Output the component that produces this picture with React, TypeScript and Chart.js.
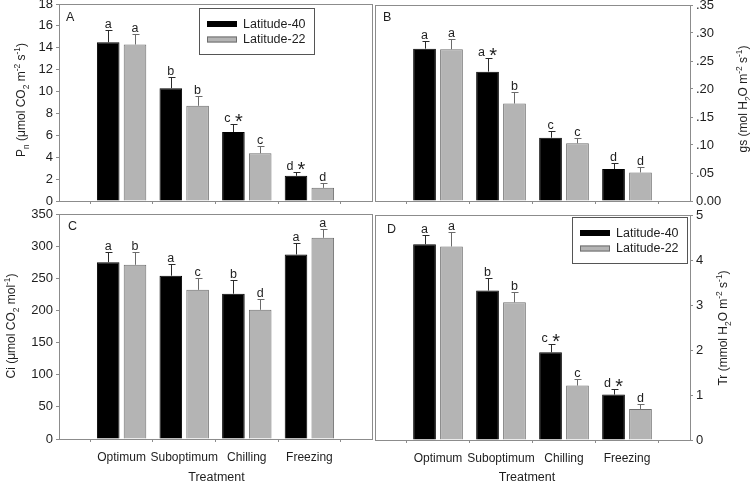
import React, { useEffect, useRef } from 'react';
import { Chart, registerables } from 'chart.js';

Chart.register(...registerables);

const FONT = "'Liberation Sans', Arial, Helvetica, sans-serif";
const TEXT = '#1e1e1e';
const FRAME = '#8c8c8c';
const BLACK = '#000000';
const GREY = '#b4b4b4';
const GREY_EDGE = '#6e6e6e';

// ---------------- data ----------------
const categories = ['Optimum', 'Suboptimum', 'Chilling', 'Freezing'];
const seriesNames = ['Latitude-40', 'Latitude-22'];

// Panel A: Pn
const pnLat40 = [14.5, 10.3, 6.3, 2.3];
const pnLat40Err = [1.1, 1.05, 0.73, 0.34];
const pnLat22 = [14.3, 8.7, 4.36, 1.2];
const pnLat22Err = [0.95, 0.9, 0.67, 0.45];
const pnLat40Letters = ['a', 'b', 'c', 'd'];
const pnLat22Letters = ['a', 'b', 'c', 'd'];
const pnLat40Stars = [false, false, true, true];
const pnLat22Stars = [false, false, false, false];
const pnTicks = [0, 2, 4, 6, 8, 10, 12, 14, 16, 18];
const pnTickLabels = ['0', '2', '4', '6', '8', '10', '12', '14', '16', '18'];

// Panel B: gs
const gsLat40 = [0.272, 0.231, 0.113, 0.057];
const gsLat40Err = [0.0145, 0.024, 0.012, 0.01];
const gsLat22 = [0.271, 0.174, 0.103, 0.051];
const gsLat22Err = [0.018, 0.02, 0.009, 0.009];
const gsLat40Letters = ['a', 'a', 'c', 'd'];
const gsLat22Letters = ['a', 'b', 'c', 'd'];
const gsLat40Stars = [false, true, false, false];
const gsLat22Stars = [false, false, false, false];
const gsTicks = [0, 0.05, 0.1, 0.15, 0.2, 0.25, 0.3, 0.35];
const gsTickLabels = ['0.00', '.05', '.10', '.15', '.20', '.25', '.30', '.35'];

// Panel C: Ci
const ciLat40 = [275, 254, 226, 287];
const ciLat40Err = [16, 18, 21, 18];
const ciLat22 = [271, 232, 201, 313];
const ciLat22Err = [20, 19, 17, 13];
const ciLat40Letters = ['a', 'a', 'b', 'a'];
const ciLat22Letters = ['b', 'c', 'd', 'a'];
const ciLat40Stars = [false, false, false, false];
const ciLat22Stars = [false, false, false, false];
const ciTicks = [0, 50, 100, 150, 200, 250, 300, 350];
const ciTickLabels = ['0', '50', '100', '150', '200', '250', '300', '350'];

// Panel D: Tr
const trLat40 = [4.35, 3.32, 1.95, 1.01];
const trLat40Err = [0.21, 0.29, 0.18, 0.12];
const trLat22 = [4.3, 3.06, 1.21, 0.69];
const trLat22Err = [0.33, 0.24, 0.14, 0.1];
const trLat40Letters = ['a', 'b', 'c', 'd'];
const trLat22Letters = ['a', 'b', 'c', 'd'];
const trLat40Stars = [false, false, true, true];
const trLat22Stars = [false, false, false, false];
const trTicks = [0, 1, 2, 3, 4, 5];
const trTickLabels = ['0', '1', '2', '3', '4', '5'];

const xTitle = 'Treatment';

type Seg = { t: string; s?: 'sub' | 'sup' };
const pnTitle: Seg[] = [
  { t: 'P' }, { t: 'n', s: 'sub' }, { t: ' (μmol CO' }, { t: '2', s: 'sub' },
  { t: ' m' }, { t: '-2', s: 'sup' }, { t: ' s' }, { t: '-1', s: 'sup' }, { t: ')' },
];
const gsTitle: Seg[] = [
  { t: 'gs (mol H' }, { t: '2', s: 'sub' }, { t: 'O m' }, { t: '-2', s: 'sup' },
  { t: ' s' }, { t: '-1', s: 'sup' }, { t: ')' },
];
const ciTitle: Seg[] = [
  { t: 'Ci (μmol CO' }, { t: '2', s: 'sub' }, { t: ' mol' }, { t: '-1', s: 'sup' }, { t: ')' },
];
const trTitle: Seg[] = [
  { t: 'Tr (mmol H' }, { t: '2', s: 'sub' }, { t: 'O m' }, { t: '-2', s: 'sup' },
  { t: ' s' }, { t: '-1', s: 'sup' }, { t: ')' },
];

// ---------------- types ----------------
interface Series {
  name: string;
  values: number[];
  err: number[];
  letters: string[];
  stars: boolean[];
  fill: string;
  edge: string;
  errColor: string;
}
interface PanelCfg {
  key: string;
  area: { l: number; t: number; r: number; b: number };
  yPos: 'left' | 'right';
  yTicks: number[];
  yTickLabels: string[];
  series: Series[];
  showX: boolean;
  title: Seg[];
  titleX: number;
  titleY: number;
  letter: string;
  letterX: number;
  letterY: number;
  legend?: { x: number; y: number };
  xTitlePos?: { x: number; y: number };
}

const mk = (
  name: string, values: number[], err: number[], letters: string[], stars: boolean[], black: boolean,
): Series => ({
  name, values, err, letters, stars,
  fill: black ? BLACK : GREY,
  edge: black ? BLACK : GREY_EDGE,
  errColor: black ? '#2a2a2a' : '#6a6a6a',
});

const panels: PanelCfg[] = [
  {
    key: 'A', area: { l: 59, t: 4, r: 372, b: 201 }, yPos: 'left', yTicks: pnTicks, yTickLabels: pnTickLabels,
    series: [
      mk(seriesNames[0], pnLat40, pnLat40Err, pnLat40Letters, pnLat40Stars, true),
      mk(seriesNames[1], pnLat22, pnLat22Err, pnLat22Letters, pnLat22Stars, false),
    ],
    showX: false, title: pnTitle, titleX: 21, titleY: 100, letter: 'A', letterX: 66, letterY: 21,
    legend: { x: 199, y: 8 },
  },
  {
    key: 'B', area: { l: 375, t: 5, r: 690, b: 201 }, yPos: 'right', yTicks: gsTicks, yTickLabels: gsTickLabels,
    series: [
      mk(seriesNames[0], gsLat40, gsLat40Err, gsLat40Letters, gsLat40Stars, true),
      mk(seriesNames[1], gsLat22, gsLat22Err, gsLat22Letters, gsLat22Stars, false),
    ],
    showX: false, title: gsTitle, titleX: 743, titleY: 99, letter: 'B', letterX: 383, letterY: 21,
  },
  {
    key: 'C', area: { l: 59, t: 214, r: 372, b: 439 }, yPos: 'left', yTicks: ciTicks, yTickLabels: ciTickLabels,
    series: [
      mk(seriesNames[0], ciLat40, ciLat40Err, ciLat40Letters, ciLat40Stars, true),
      mk(seriesNames[1], ciLat22, ciLat22Err, ciLat22Letters, ciLat22Stars, false),
    ],
    showX: true, title: ciTitle, titleX: 11, titleY: 326, letter: 'C', letterX: 68, letterY: 230,
    xTitlePos: { x: 216.5, y: 478 },
  },
  {
    key: 'D', area: { l: 375, t: 215, r: 690, b: 440 }, yPos: 'right', yTicks: trTicks, yTickLabels: trTickLabels,
    series: [
      mk(seriesNames[0], trLat40, trLat40Err, trLat40Letters, trLat40Stars, true),
      mk(seriesNames[1], trLat22, trLat22Err, trLat22Letters, trLat22Stars, false),
    ],
    showX: true, title: trTitle, titleX: 723, titleY: 328, letter: 'D', letterX: 387, letterY: 233,
    legend: { x: 572, y: 217 }, xTitlePos: { x: 527, y: 478 },
  },
];

// ---------------- drawing helpers ----------------
function drawRich(ctx: CanvasRenderingContext2D, segs: Seg[], cx: number, cy: number, size: number) {
  const small = size * 0.7;
  ctx.save();
  ctx.translate(cx, cy);
  ctx.rotate(-Math.PI / 2);
  ctx.fillStyle = TEXT;
  ctx.textBaseline = 'alphabetic';
  ctx.textAlign = 'left';
  const widths = segs.map((sg) => {
    ctx.font = `${sg.s ? small : size}px ${FONT}`;
    return ctx.measureText(sg.t).width;
  });
  const total = widths.reduce((a, b) => a + b, 0);
  let x = -total / 2;
  const base = size * 0.36;
  segs.forEach((sg, i) => {
    ctx.font = `${sg.s ? small : size}px ${FONT}`;
    const dy = sg.s === 'sub' ? size * 0.3 : sg.s === 'sup' ? -size * 0.42 : 0;
    ctx.fillText(sg.t, x, base + dy);
    x += widths[i];
  });
  ctx.restore();
}

function drawLegend(ctx: CanvasRenderingContext2D, x0: number, y0: number, series: Series[]) {
  ctx.save();
  ctx.strokeStyle = '#555';
  ctx.lineWidth = 1;
  ctx.strokeRect(x0 + 0.5, y0 + 0.5, 115, 46);
  ctx.font = `12.5px ${FONT}`;
  ctx.textBaseline = 'middle';
  ctx.textAlign = 'left';
  series.forEach((s, i) => {
    const cy = y0 + 16 + i * 15.5;
    ctx.fillStyle = s.fill;
    ctx.fillRect(x0 + 8, cy - 3, 30, 6);
    if (s.edge !== s.fill) {
      ctx.strokeStyle = s.edge;
      ctx.strokeRect(x0 + 8.5, cy - 2.5, 29, 5);
    }
    ctx.fillStyle = TEXT;
    ctx.fillText(s.name, x0 + 44, cy + 0.5);
  });
  ctx.restore();
}

function decorPlugin(p: PanelCfg) {
  return {
    id: 'decor' + p.key,
    beforeDatasetsDraw(chart: any) {
      const { ctx, chartArea: a } = chart;
      ctx.save();
      ctx.strokeStyle = FRAME;
      ctx.lineWidth = 1;
      ctx.strokeRect(a.left + 0.5, a.top + 0.5, a.right - a.left, a.bottom - a.top);
      ctx.restore();
    },
    afterDatasetsDraw(chart: any) {
      const ctx: CanvasRenderingContext2D = chart.ctx;
      const yScale = chart.scales.y;
      ctx.save();
      p.series.forEach((s, di) => {
        const meta = chart.getDatasetMeta(di);
        s.values.forEach((v, i) => {
          const el = meta.data[i + 1];
          if (!el) return;
          const xx = Math.round(el.x) + 0.5;
          const yTop = yScale.getPixelForValue(v);
          const yErr = Math.round(yScale.getPixelForValue(v + s.err[i])) + 0.5;
          ctx.strokeStyle = s.errColor;
          ctx.lineWidth = 1;
          ctx.beginPath();
          ctx.moveTo(xx, yTop);
          ctx.lineTo(xx, yErr);
          ctx.moveTo(xx - 3, yErr);
          ctx.lineTo(xx + 4, yErr);
          ctx.stroke();
          // letters
          const baseY = yErr - 2.5;
          ctx.fillStyle = TEXT;
          ctx.textBaseline = 'alphabetic';
          ctx.textAlign = 'center';
          ctx.font = `12.5px ${FONT}`;
          if (s.stars[i]) {
            ctx.fillText(s.letters[i], el.x - 6, baseY);
            ctx.font = `20px ${FONT}`;
            const m = ctx.measureText('*');
            const h = m.actualBoundingBoxAscent + m.actualBoundingBoxDescent;
            const cyStar = baseY - 4.5;
            ctx.fillText('*', el.x + 5.5, cyStar + m.actualBoundingBoxAscent - h / 2);
          } else {
            ctx.fillText(s.letters[i], el.x, baseY);
          }
        });
      });
      // panel letter
      ctx.fillStyle = TEXT;
      ctx.font = `12.5px ${FONT}`;
      ctx.textAlign = 'left';
      ctx.textBaseline = 'alphabetic';
      ctx.fillText(p.letter, p.letterX, p.letterY);
      ctx.restore();
      // axis title
      drawRich(ctx, p.title, p.titleX, p.titleY, 12);
      if (p.xTitlePos) {
        ctx.save();
        ctx.fillStyle = TEXT;
        ctx.font = `12.5px ${FONT}`;
        ctx.textAlign = 'center';
        ctx.textBaseline = 'middle';
        ctx.fillText(xTitle, p.xTitlePos.x, p.xTitlePos.y);
        ctx.restore();
      }
      if (p.legend) drawLegend(ctx, p.legend.x, p.legend.y, p.series);
    },
  };
}

function buildConfig(p: PanelCfg): any {
  const labels = ['', ...categories, ''];
  const W = 750;
  const H = 485;
  const yW = 60;
  const xH = 40;
  const padding =
    p.yPos === 'left'
      ? { left: p.area.l - yW, right: W - p.area.r, top: p.area.t, bottom: H - p.area.b - xH }
      : { left: p.area.l, right: W - p.area.r - yW, top: p.area.t, bottom: H - p.area.b - xH };
  return {
    type: 'bar',
    data: {
      labels,
      datasets: p.series.map((s) => ({
        label: s.name,
        data: [null, ...s.values, null],
        backgroundColor: s.fill,
        borderColor: s.edge,
        borderWidth: 1,
        categoryPercentage: 0.856,
        barPercentage: 0.843,
      })),
    },
    options: {
      animation: false,
      responsive: false,
      maintainAspectRatio: false,
      events: [],
      layout: { padding },
      plugins: { legend: { display: false }, tooltip: { enabled: false }, title: { display: false } },
      scales: {
        x: {
          type: 'category',
          offset: false,
          grid: { display: true, drawOnChartArea: false, drawTicks: true, tickLength: 3, color: FRAME },
          border: { display: true, color: FRAME, width: 1 },
          ticks: {
            display: p.showX,
            autoSkip: false,
            maxRotation: 0,
            minRotation: 0,
            padding: 8,
            color: TEXT,
            font: { family: FONT, size: 12 },
            callback: (v: number) => labels[v],
          },
          afterBuildTicks: (scale: any) => {
            scale.ticks = [1, 2, 3, 4].map((v) => ({ value: v }));
          },
          afterFit: (scale: any) => {
            scale.height = xH;
            scale.paddingLeft = 0;
            scale.paddingRight = 0;
          },
        },
        y: {
          position: p.yPos,
          min: 0,
          max: p.yTicks[p.yTicks.length - 1],
          grid: { display: true, drawOnChartArea: false, drawTicks: true, tickLength: 3, color: FRAME },
          border: { display: true, color: FRAME, width: 1 },
          ticks: {
            padding: 3,
            color: TEXT,
            font: { family: FONT, size: 13 },
            callback: (_v: number, i: number) => p.yTickLabels[i],
          },
          afterBuildTicks: (scale: any) => {
            scale.ticks = p.yTicks.map((v) => ({ value: v }));
          },
          afterFit: (scale: any) => {
            scale.width = yW;
            scale.paddingTop = 0;
            scale.paddingBottom = 0;
          },
        },
      },
    },
    plugins: [decorPlugin(p)],
  };
}

function Panel({ cfg }: { cfg: PanelCfg }) {
  const ref = useRef<HTMLCanvasElement>(null);
  useEffect(() => {
    if (!ref.current) return;
    const chart = new Chart(ref.current, buildConfig(cfg));
    return () => chart.destroy();
  }, [cfg]);
  return (
    <canvas
      ref={ref}
      width={750}
      height={485}
      style={{ position: 'absolute', left: 0, top: 0, width: 750, height: 485 }}
    />
  );
}

export default function App() {
  return (
    <div style={{ position: 'fixed', left: 0, top: 0, width: 750, height: 485, background: '#fff' }}>
      {panels.map((p) => (
        <Panel key={p.key} cfg={p} />
      ))}
    </div>
  );
}
